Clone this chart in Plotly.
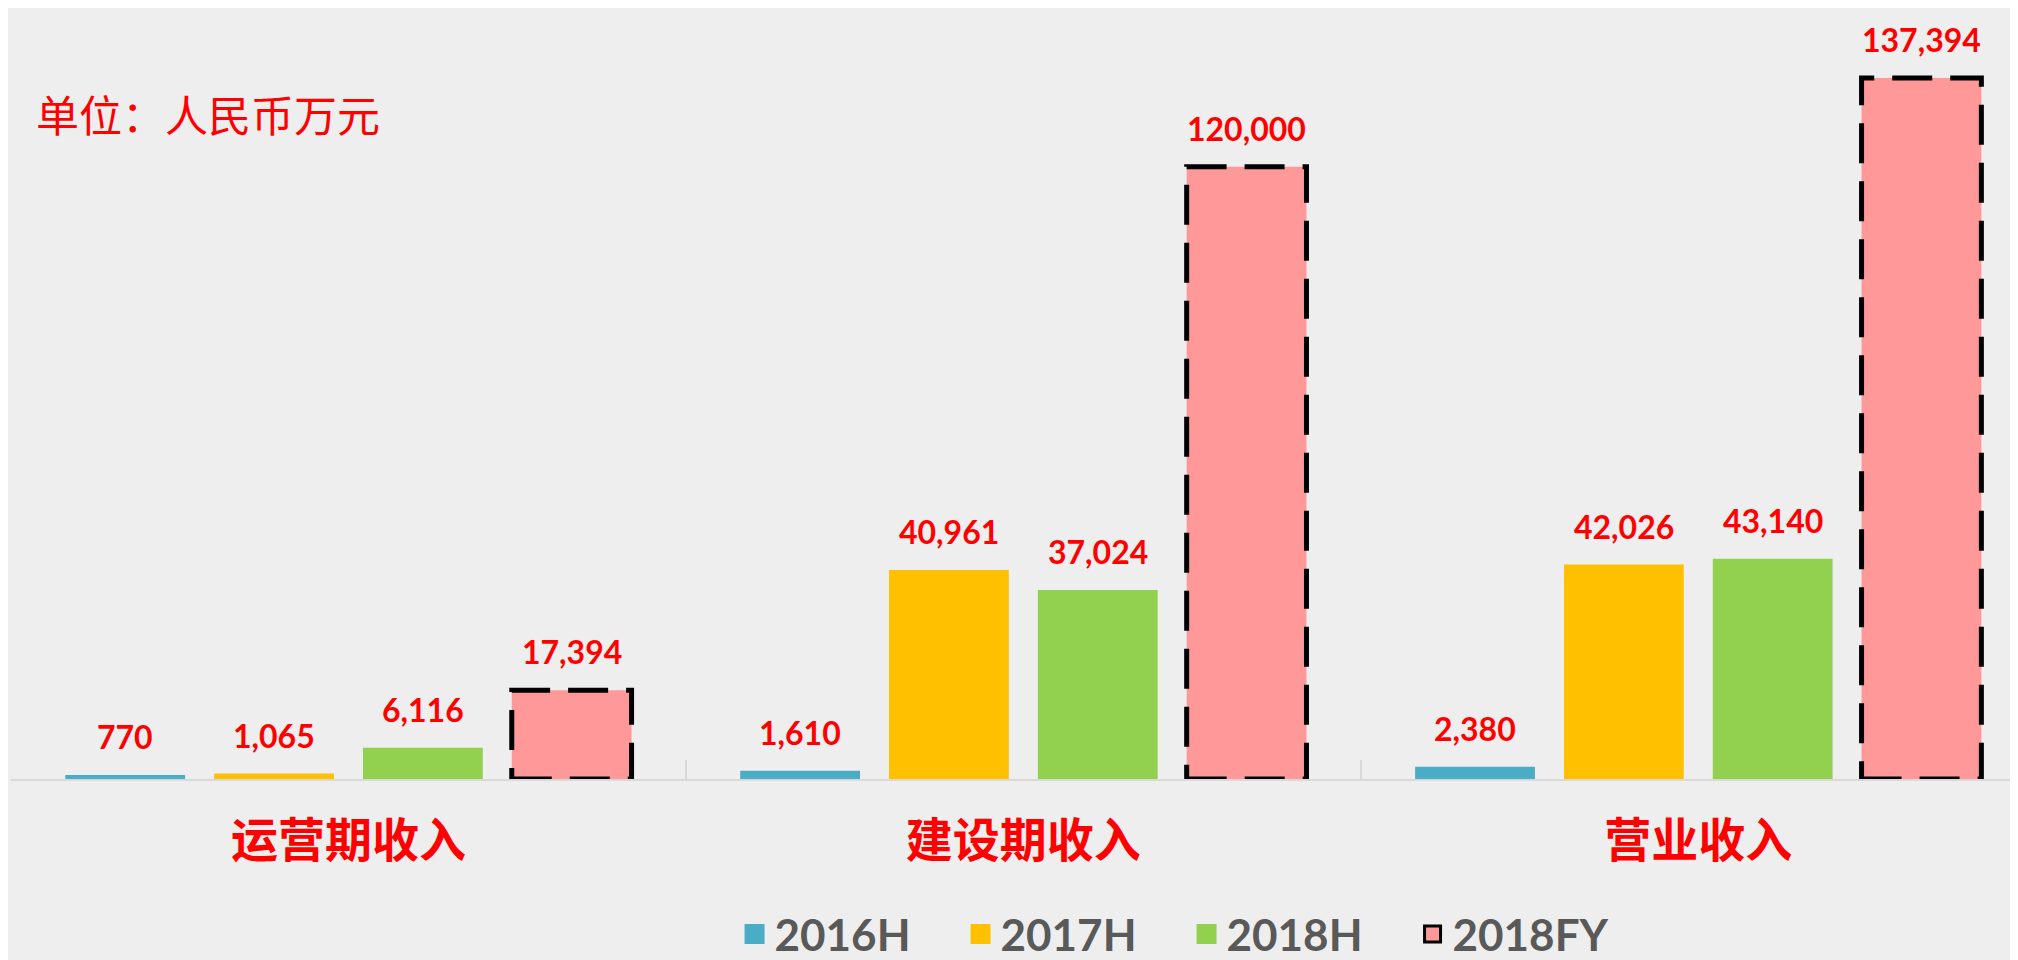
import plotly.graph_objects as go

# ---------------- data ----------------
categories = ["运营期收入", "建设期收入", "营业收入"]
series_names = ["2016H", "2017H", "2018H", "2018FY"]
v2016h = [770, 1610, 2380]
v2017h = [1065, 40961, 42026]
v2018h = [6116, 37024, 43140]
v2018fy = [17394, 120000, 137394]
series_values = [v2016h, v2017h, v2018h, v2018fy]
colors = ["#4BACC6", "#FFC000", "#92D050", "#FF9999"]
unit_label = "单位：人民币万元"

# ---------------- style ----------------
BARGAP = 0.118
BARGROUPGAP = 0.195
LABEL_RED = "#FF0000"
n = len(series_names)
slot = (1 - BARGAP) / n
barw = slot * (1 - BARGROUPGAP)

fig = go.Figure()

for k, (name, vals, col) in enumerate(zip(series_names, series_values, colors)):
    fig.add_trace(go.Bar(
        x=categories, y=vals, name=name,
        marker=dict(color=col, line=dict(width=0)),
        showlegend=False, hoverinfo="x+y+name",
    ))

# legend proxies
for k, (name, col) in enumerate(zip(series_names, colors)):
    fig.add_trace(go.Scatter(
        x=[None], y=[None], mode="markers", name=name,
        marker=dict(symbol="square", size=16, color=col,
                    line=dict(color=("black" if k == n - 1 else col),
                              width=(3 if k == n - 1 else 4))),
        hoverinfo="skip",
    ))

annotations = []
shapes = []
for k, vals in enumerate(series_values):
    off = -(1 - BARGAP) / 2 + slot * (k + 0.5)
    for i, v in enumerate(vals):
        annotations.append(dict(
            x=i + off, y=v, xref="x", yref="y",
            text=f"{v:,}", showarrow=False,
            yanchor="bottom", xanchor="center", yshift=17,
            font=dict(family="Lato, Liberation Sans, Arial", size=32,
                      color=LABEL_RED, weight="bold"),
        ))
        if k == n - 1:
            shapes.append(dict(
                type="rect", xref="x", yref="y",
                x0=i + off - barw / 2, x1=i + off + barw / 2, y0=0, y1=v,
                line=dict(color="black", width=5, dash="40px,18px"),
                fillcolor="rgba(0,0,0,0)", layer="above",
            ))

annotations.append(dict(
    x=0.0112, y=0.8634, xref="paper", yref="paper",
    text=unit_label, showarrow=False, xanchor="left", yanchor="middle",
    font=dict(family="Noto Sans CJK SC", size=43, color=LABEL_RED),
))

W, H = 2018, 960
ML, MR, MT, MB = 3, 0, 0, 189.4
cat_px = 674.9
plot_w = W - ML - MR

fig.update_layout(
    width=W, height=H,
    margin=dict(l=ML, r=MR, t=MT, b=MB, autoexpand=False),
    paper_bgcolor="#EEEEEE", plot_bgcolor="rgba(0,0,0,0)",
    barmode="group", bargap=BARGAP, bargroupgap=BARGROUPGAP,
    annotations=annotations, shapes=shapes,
    legend=dict(
        orientation="h", x=0.5834, xanchor="center", y=-0.2017, yanchor="middle",
        font=dict(family="Lato, Liberation Sans, Arial", size=44, color="#595959",
                  weight="bold"),
        bgcolor="rgba(0,0,0,0)", entrywidth=181, entrywidthmode="pixels",
    ),
    xaxis=dict(
        type="category", range=[-0.5, -0.5 + plot_w / cat_px],
        showline=True, linecolor="#D9D9D9", linewidth=2,
        ticks="inside", tickson="boundaries", ticklen=19, tickcolor="#D9D9D9",
        tickwidth=2, showgrid=False, zeroline=False,
        tickfont=dict(family="Noto Sans CJK SC", size=47, color=LABEL_RED,
                      weight="bold"),
        ticklabelstandoff=20,
    ),
    yaxis=dict(range=[0, 151100], visible=False, showgrid=False, zeroline=False),
)

fig.write_html("out.html", config={"displayModeBar": False})
